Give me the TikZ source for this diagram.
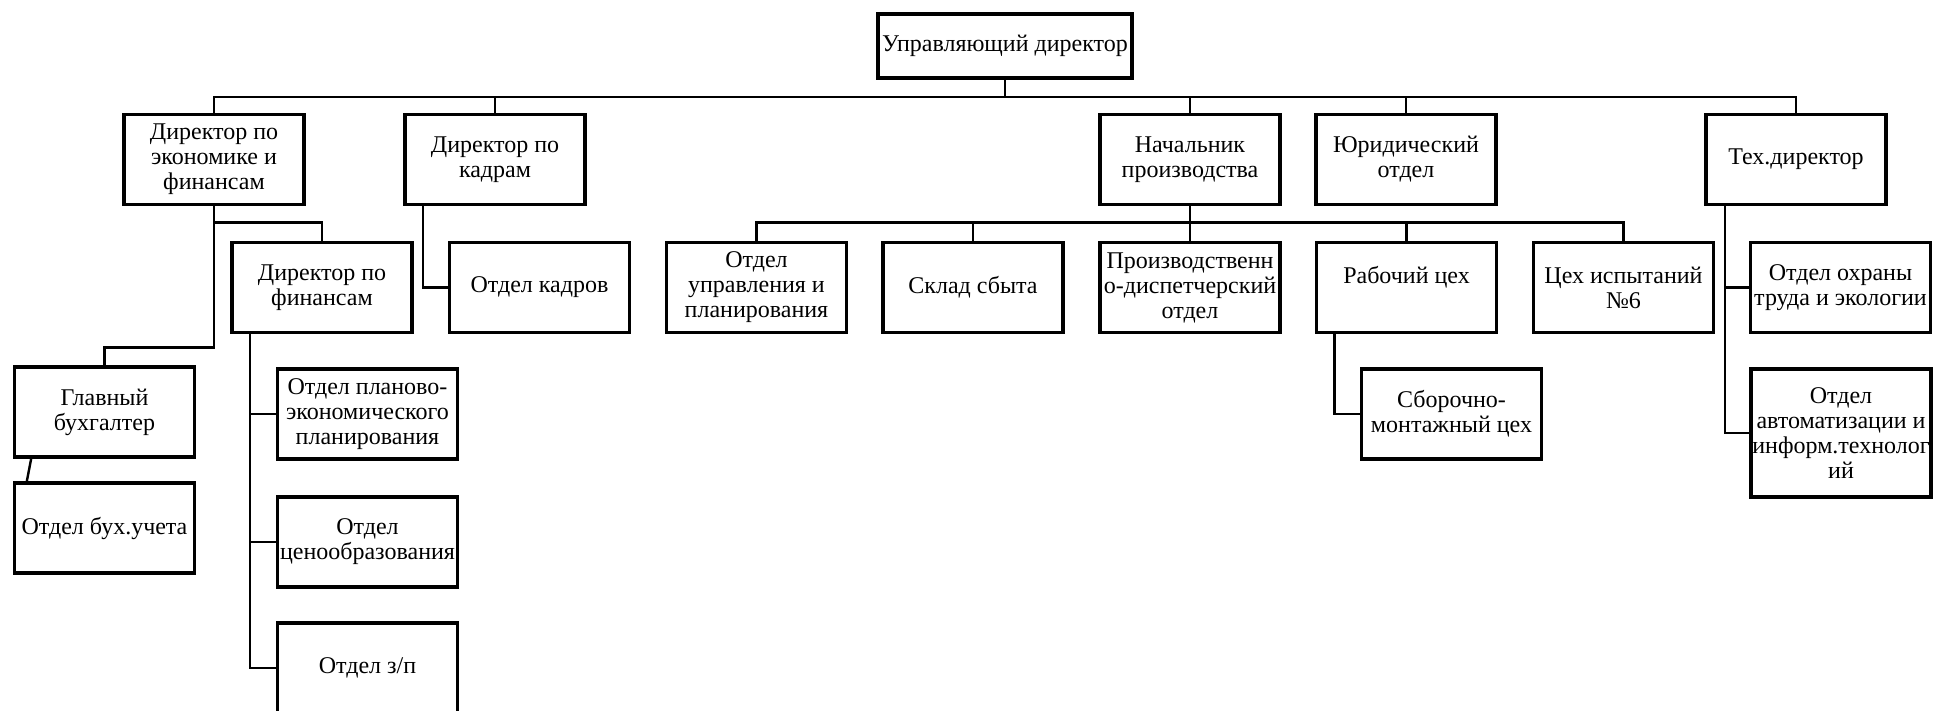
\documentclass[tikz,border=0pt]{standalone}
\usepackage{fontspec}
\setmainfont{Liberation Serif}
\usetikzlibrary{calc}
\tikzset{
    unit/.style={
        draw,
        rectangle,
        line width=1.7pt,
        minimum width=90pt,
        minimum height=45pt,
        inner xsep=0pt,
        inner ysep=1pt,
        outer sep=0pt,
        align=center,
        font=\fontsize{12}{12.5}\selectfont
    },
    link/.style={
        draw,
        line width=1.2pt
    }
}

\begin{document}
\begin{tikzpicture}[x=0.5pt, y=-0.5pt]
    \useasboundingbox (0,0) rectangle (1933,711);
    % Units - top level
    \node[unit, minimum width=127pt, minimum height=32pt] (ud) at (1005,46) {Управляющий директор};
    \node[unit] (econ) at (214,159.5) {Директор по\\экономике и\\финансам};
    \node[unit] (kadry) at (495,159.5) {Директор по\\кадрам};
    \node[unit] (nach) at (1190,159.5) {Начальник\\производства};
    \node[unit] (yur) at (1406,159.5) {Юридический\\отдел};
    \node[unit] (teh) at (1796,159.5) {Тех.директор};
    
    % Units - second level
    \node[unit] (findir) at (322,287.5) {Директор по\\финансам};
    \node[unit] (otdkadr) at (539.5,287.5) {Отдел кадров};
    \node[unit] (upr) at (756.5,287.5) {Отдел\\управления и\\планирования};
    \node[unit] (sklad) at (973,287.5) {Склад сбыта};
    \node[unit] (pdo) at (1190,287.5) {Производственн\\о-диспетчерский\\отдел};
    \node[unit] (rab) at (1406.5,287.5) {Рабочий цех\\\mbox{}};
    \node[unit] (ceh6) at (1623.5,287.5) {Цех испытаний\\№6};
    \node[unit] (ohr) at (1840.5,287.5) {Отдел охраны\\труда и экологии};
    
    % Units - lower levels
    \node[unit] (gb) at (104.5,412) {Главный\\бухгалтер};
    \node[unit] (buh) at (104.5,528) {Отдел бух.учета};
    \node[unit] (plan) at (367.5,414) {Отдел планово-\\экономического\\планирования};
    \node[unit] (ceno) at (367.5,542) {Отдел\\ценообразования};
    \node[unit] (zp) at (367.5,668) {Отдел з/п};
    \node[unit] (sbor) at (1451.5,414) {Сборочно-\\монтажный цех};
    \node[unit, minimum height=64pt] (avt) at (1841,433) {Отдел\\автоматизации и\\информ.технолог\\ий};
    
    % Links
    \draw[link] (ud.south) -- ++(0,19) -| (econ.north);
    \draw[link] (ud.south) -- ++(0,19) -| (kadry.north);
    \draw[link] (ud.south) -- ++(0,19) -| (nach.north);
    \draw[link] (ud.south) -- ++(0,19) -| (yur.north);
    \draw[link] (ud.south) -- ++(0,19) -| (teh.north);
    
    \draw[link] (econ.south) -- ++(0,18) -| (findir.north);
    \draw[link] (econ.south) -- ++(0,143) -| (gb.north);
    \draw[link] ($(gb.south west)+(17,0)$) -- ($(buh.north west)+(12,0)$);
    \draw[link] ($(findir.south west)+(18,0)$) |- (plan.west);
    \draw[link] ($(findir.south west)+(18,0)$) |- (ceno.west);
    \draw[link] ($(findir.south west)+(18,0)$) |- (zp.west);
    \draw[link] ($(kadry.south west)+(18,0)$) |- (otdkadr.west);
    
    \draw[link] (nach.south) -- ++(0,18) -| (upr.north);
    \draw[link] (nach.south) -- ++(0,18) -| (sklad.north);
    \draw[link] (nach.south) -- (pdo.north);
    \draw[link] (nach.south) -- ++(0,18) -| (rab.north);
    \draw[link] (nach.south) -- ++(0,18) -| (ceh6.north);
    \draw[link] ($(rab.south west)+(18,0)$) |- (sbor.west);
    
    \draw[link] ($(teh.south west)+(19,0)$) |- (ohr.west);
    \draw[link] ($(teh.south west)+(19,0)$) |- (avt.west);
    
\end{tikzpicture}
\end{document}
